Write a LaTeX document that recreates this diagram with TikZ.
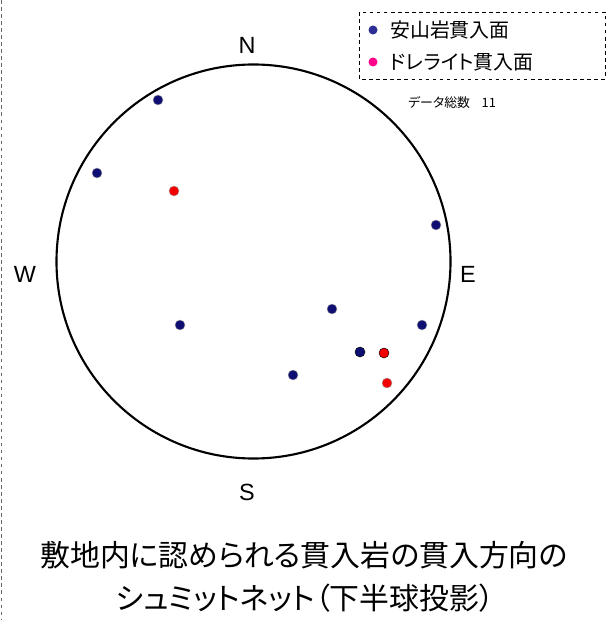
\documentclass[tikz,border=0pt]{standalone}
\usepackage{fontspec}
\setmainfont{Liberation Sans}
\newfontfamily\jp[RawFeature=+palt]{Noto Sans CJK JP}
\definecolor{andesite}{RGB}{15,15,115}
\definecolor{dolerite}{RGB}{245,0,0}
\definecolor{legandesite}{RGB}{45,45,150}
\definecolor{legdolerite}{RGB}{255,0,140}

\begin{document}
\begin{tikzpicture}[x=0.03cm,y=-0.03cm,
  dot/.style={circle,inner sep=0pt,minimum size=0.3cm,draw=gray!70,line width=0.4pt},
  legdot/.style={circle,inner sep=0pt,minimum size=0.27cm},
  dir/.style={font=\fontsize{20}{22}\selectfont},
  legtext/.style={anchor=west,inner sep=0pt,font=\jp\fontsize{17}{19}\selectfont}]
\useasboundingbox (0,0) rectangle (607,620);
\draw [gray!80!black, dashed, thin] (1,0)--(1,620);

\draw [line width=1.8pt] (253.5,261.5) circle [radius=5.91cm];
\node [dir] (N) at (247,45) {N};
\node [dir] (S) at (247,492) {S};
\node [dir] (W) at (25,274) {W};
\node [dir] (E) at (468,274) {E};

\node [dot,fill=andesite] (a1) at (158,100) {};
\node [dot,fill=andesite] (a2) at (97,173) {};
\node [dot,fill=andesite] (a3) at (436,225) {};
\node [dot,fill=andesite] (a4) at (332,309) {};
\node [dot,fill=andesite] (a5) at (180,325) {};
\node [dot,fill=andesite] (a6) at (422,325) {};
\node [dot,fill=andesite,draw=black] (a7) at (360,352) {};
\node [dot,fill=andesite] (a8) at (293,375) {};
\node [dot,fill=dolerite] (d1) at (174,191) {};
\node [dot,fill=dolerite,draw=black] (d2) at (384,353) {};
\node [dot,fill=dolerite] (d3) at (387,383) {};

\draw [dashed, thin] (359,12) rectangle (605,79);
\node [legdot,fill=legandesite] (la) at (373,30) {};
\node [legtext] (lat) at (390,30) {安山岩貫入面};
\node [legdot,fill=legdolerite] (ld) at (373,62) {};
\node [legtext] (ldt) at (390,62) {ドレライト貫入面};
\node [anchor=west,inner sep=0pt,font=\jp\fontsize{11}{13}\selectfont] (total) at (408,103) {データ総数\hspace{0.9em}11};

\node [font=\jp\fontsize{25.5}{29}\selectfont] (title1) at (304,555) {敷地内に認められる貫入岩の貫入方向の};
\node [font=\jp\fontsize{25.5}{29}\selectfont] (title2) at (305,598) {シュミットネット（下半球投影）};

\end{tikzpicture}
\end{document}
